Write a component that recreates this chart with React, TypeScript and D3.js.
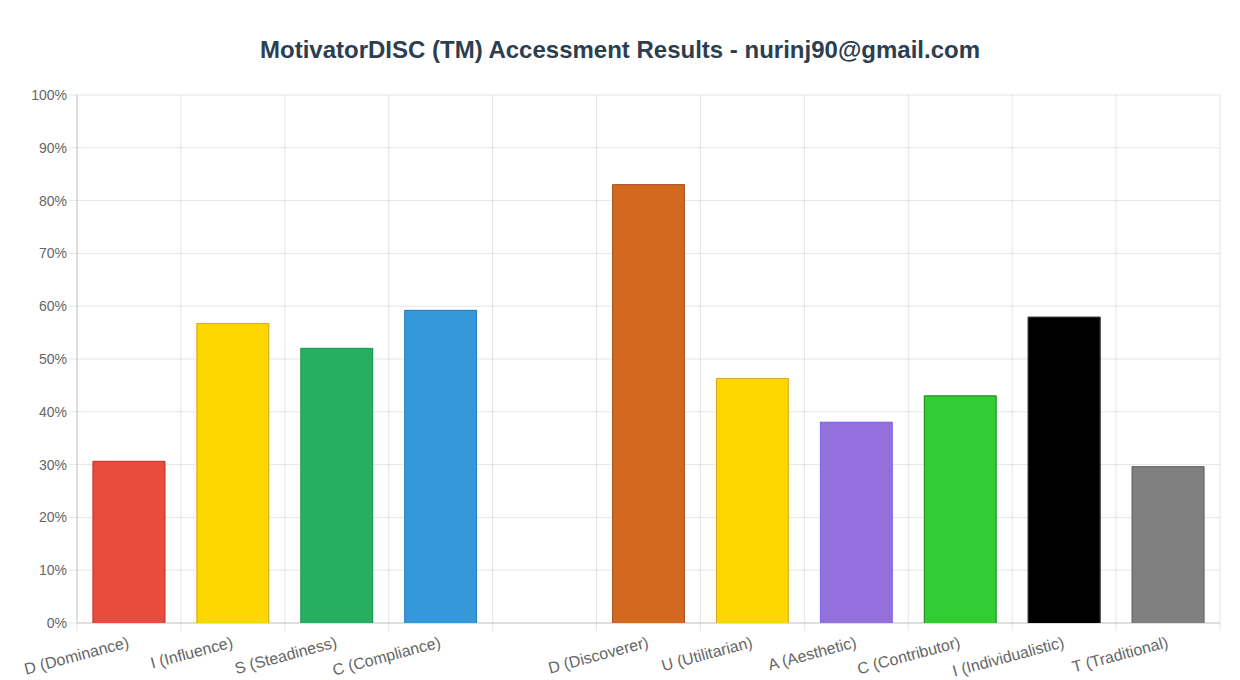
import * as d3 from "d3"

const W = 1240
const H = 680
const margin = { top: 95, right: 20, bottom: 57, left: 77 }

const title = "MotivatorDISC (TM) Accessment Results - nurinj90@gmail.com"

// an empty slot separates the DISC group from the motivators group
const categories = [
  "D (Dominance)",
  "I (Influence)",
  "S (Steadiness)",
  "C (Compliance)",
  "",
  "D (Discoverer)",
  "U (Utilitarian)",
  "A (Aesthetic)",
  "C (Contributor)",
  "I (Individualistic)",
  "T (Traditional)",
]
const values = [30.7, 56.8, 52.1, 59.3, null, 83.1, 46.4, 38.1, 43.1, 58.0, 29.7]
const fills = ["#e74c3c", "#ffd700", "#27ae60", "#3498db", "none", "#d2691e", "#ffd700", "#9370db", "#32cd32", "#000000", "#808080"]
const borders = ["#c0392b", "#daa520", "#229954", "#2980b9", "none", "#a0522d", "#daa520", "#7b68ee", "#228b22", "#333333", "#666666"]
const yTicks = [0, 10, 20, 30, 40, 50, 60, 70, 80, 90, 100]

const font = "'Liberation Sans', Arial, sans-serif"

export default function App() {
  const innerW = W - margin.left - margin.right
  const innerH = H - margin.top - margin.bottom

  const x = d3.scaleBand<number>().domain(d3.range(categories.length)).range([0, innerW]).paddingInner(0).paddingOuter(0)
  const y = d3.scaleLinear().domain([0, 100]).range([innerH, 0])
  const barW = x.bandwidth() * 0.7

  return (
    <svg width={W} height={H} style={{ position: "absolute", left: 0, top: 0, fontFamily: font }}>
      <rect width={W} height={H} fill="#fff" />
      <text x={W / 2} y={58} textAnchor="middle" fontSize={24} fontWeight="bold" fill="#2c3e50">
        {title}
      </text>
      <g transform={`translate(${margin.left},${margin.top})`}>
        {/* horizontal grid */}
        {yTicks.map((t) => (
          <g key={t}>
            <line x1={-8} x2={innerW} y1={y(t)} y2={y(t)} stroke="rgba(0,0,0,0.1)" />
            <text x={-10} y={y(t)} dy="0.35em" textAnchor="end" fontSize={14} fill="#666">
              {t}%
            </text>
          </g>
        ))}
        {/* vertical grid */}
        {d3.range(categories.length + 1).map((i) => {
          const gx = i < categories.length ? (x(i) as number) : innerW
          return <line key={i} x1={gx} x2={gx} y1={0} y2={innerH + 8} stroke="rgba(0,0,0,0.1)" />
        })}
        <line x1={0} x2={0} y1={0} y2={innerH} stroke="#ccc" />
        <line x1={0} x2={innerW} y1={innerH} y2={innerH} stroke="#ccc" />

        {values.map((v, i) => {
          if (v == null) return null
          const bx = (x(i) as number) + (x.bandwidth() - barW) / 2
          const by = y(v)
          const bh = innerH - by
          return (
            <g key={i}>
              <rect x={bx} y={by} width={barW} height={bh} fill={fills[i]} />
              <path
                d={`M${bx + 0.5},${innerH} V${by + 0.5} H${bx + barW - 0.5} V${innerH}`}
                fill="none"
                stroke={borders[i]}
                strokeWidth={1}
              />
            </g>
          )
        })}

        {categories.map((c, i) => {
          const cx = (x(i) as number) + x.bandwidth() / 2
          return (
            <text
              key={i}
              transform={`translate(${cx + 1},${innerH + 24}) rotate(-15)`}
              textAnchor="end"
              fontSize={16}
              fill="#666"
            >
              {c}
            </text>
          )
        })}
      </g>
    </svg>
  )
}
